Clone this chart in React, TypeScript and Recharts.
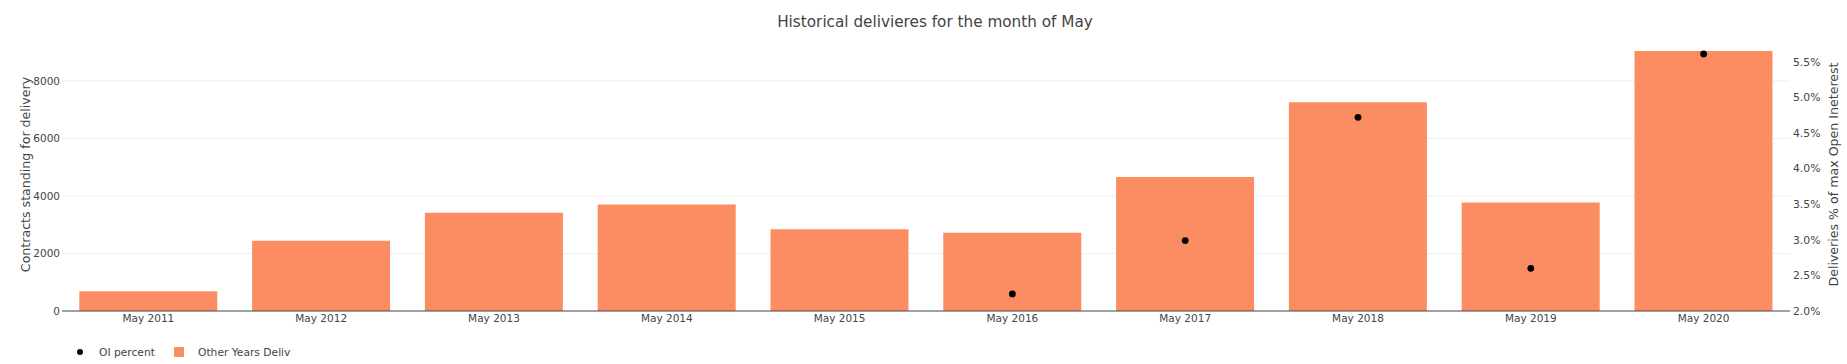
import React from 'react';
import { ComposedChart, Bar, Scatter, XAxis, YAxis, CartesianGrid, Legend } from 'recharts';

const categories = ['May 2011', 'May 2012', 'May 2013', 'May 2014', 'May 2015', 'May 2016', 'May 2017', 'May 2018', 'May 2019', 'May 2020'];
const deliveries = [685, 2445, 3420, 3700, 2840, 2725, 4660, 7260, 3770, 9045];
const oiPercent: (number | null)[] = [null, null, null, null, null, 2.24, 2.99, 4.72, 2.6, 5.61];
const leftTicks = [0, 2000, 4000, 6000, 8000];
const rightTicks = [2, 2.5, 3, 3.5, 4, 4.5, 5, 5.5];
const leftDomain = [0, 9495];
const rightDomain = [2.0, 5.835];

const TITLE = 'Historical delivieres for the month of May';
const LEFT_TITLE = 'Contracts standing for delivery';
const RIGHT_TITLE = 'Deliveries % of max Open Ineterest';
const BAR_NAME = 'Other Years Deliv';
const DOT_NAME = 'OI percent';

const data = categories.map((c, i) => ({ month: c, deliv: deliveries[i], oi: oiPercent[i] }));

const FONT = '"DejaVu Sans", Verdana, sans-serif';
const TEXT = '#444';
const BAR_COLOR = '#FC8D62';

const renderDot = (props: any) => {
  const { cx, cy, payload } = props;
  if (payload == null || payload.oi == null || cx == null || cy == null || isNaN(cy)) return <g />;
  return <circle cx={cx} cy={cy} r={3.4} fill="#000" />;
};

const renderLegend = () => (
  <svg width={300} height={20} style={{ overflow: 'visible', display: 'block' }}>
    <circle cx={10} cy={10} r={3} fill="#000" />
    <text x={29} y={10} dominantBaseline="central" fontSize={10.7} fill={TEXT} fontFamily={FONT}>{DOT_NAME}</text>
    <rect x={104} y={5} width={10} height={10} fill={BAR_COLOR} />
    <text x={128} y={10} dominantBaseline="central" fontSize={10.7} fill={TEXT} fontFamily={FONT}>{BAR_NAME}</text>
  </svg>
);

const leftLabel = (p: any) => {
  const vb = p.viewBox || {};
  const cx = (vb.x ?? 0) + 30;
  const cy = (vb.y ?? 0) + (vb.height ?? 0) / 2;
  return (
    <text transform={`translate(${cx},${cy}) rotate(-90)`} textAnchor="middle" fontSize={12.6} fill={TEXT} fontFamily={FONT}>
      {LEFT_TITLE}
    </text>
  );
};

const rightLabel = (p: any) => {
  const vb = p.viewBox || {};
  const cx = (vb.x ?? 0) + 48;
  const cy = (vb.y ?? 0) + (vb.height ?? 0) / 2;
  return (
    <text transform={`translate(${cx},${cy}) rotate(-90)`} textAnchor="middle" fontSize={12.6} fill={TEXT} fontFamily={FONT}>
      {RIGHT_TITLE}
    </text>
  );
};

export default function App() {
  return (
    <div style={{ position: 'absolute', left: 0, top: 0, width: 1847, height: 364, fontFamily: FONT, background: '#fff' }}>
      <ComposedChart
        width={1847}
        height={364}
        data={data}
        margin={{ top: 38, right: 0, bottom: 0, left: 0 }}
        barCategoryGap="10%"
      >
        <CartesianGrid yAxisId="left" vertical={false} stroke="#eee" horizontalValues={leftTicks.slice(1)} />
        <XAxis
          dataKey="month"
          interval={0}
          height={53}
          tickLine={false}
          tickSize={0}
          tickMargin={4}
          axisLine={{ stroke: '#444', strokeWidth: 1 }}
          tick={{ fontSize: 10.5, fill: TEXT, fontFamily: FONT }}
        />
        <YAxis
          yAxisId="left"
          orientation="left"
          width={62}
          domain={leftDomain}
          ticks={leftTicks}
          allowDataOverflow
          axisLine={false}
          tickLine={false}
          tickSize={0}
          tickMargin={2}
          tick={{ fontSize: 10.5, fill: TEXT, fontFamily: FONT }}
          label={{ content: leftLabel }}
        />
        <YAxis
          yAxisId="right"
          orientation="right"
          width={57}
          domain={rightDomain}
          ticks={rightTicks}
          allowDataOverflow
          axisLine={false}
          tickLine={false}
          tickSize={0}
          tickMargin={3}
          tickFormatter={(v: number) => `${v.toFixed(1)}%`}
          tick={{ fontSize: 10.8, fill: TEXT, fontFamily: FONT }}
          label={{ content: rightLabel }}
        />
        <Bar yAxisId="left" dataKey="deliv" name={BAR_NAME} fill={BAR_COLOR} isAnimationActive={false} />
        <Scatter yAxisId="right" dataKey="oi" name={DOT_NAME} fill="#000" shape={renderDot} isAnimationActive={false} />
        <Legend
          layout="horizontal"
          verticalAlign="middle"
          align="center"
          content={renderLegend}
          wrapperStyle={{ position: 'absolute', left: 70, top: 342, width: 300, height: 20 }}
        />
      </ComposedChart>
      <svg width={1847} height={40} style={{ position: 'absolute', left: 0, top: 0, pointerEvents: 'none' }}>
        <text x={935} y={26.5} textAnchor="middle" fontSize={15.25} fill={TEXT} fontFamily={FONT}>{TITLE}</text>
      </svg>
    </div>
  );
}
